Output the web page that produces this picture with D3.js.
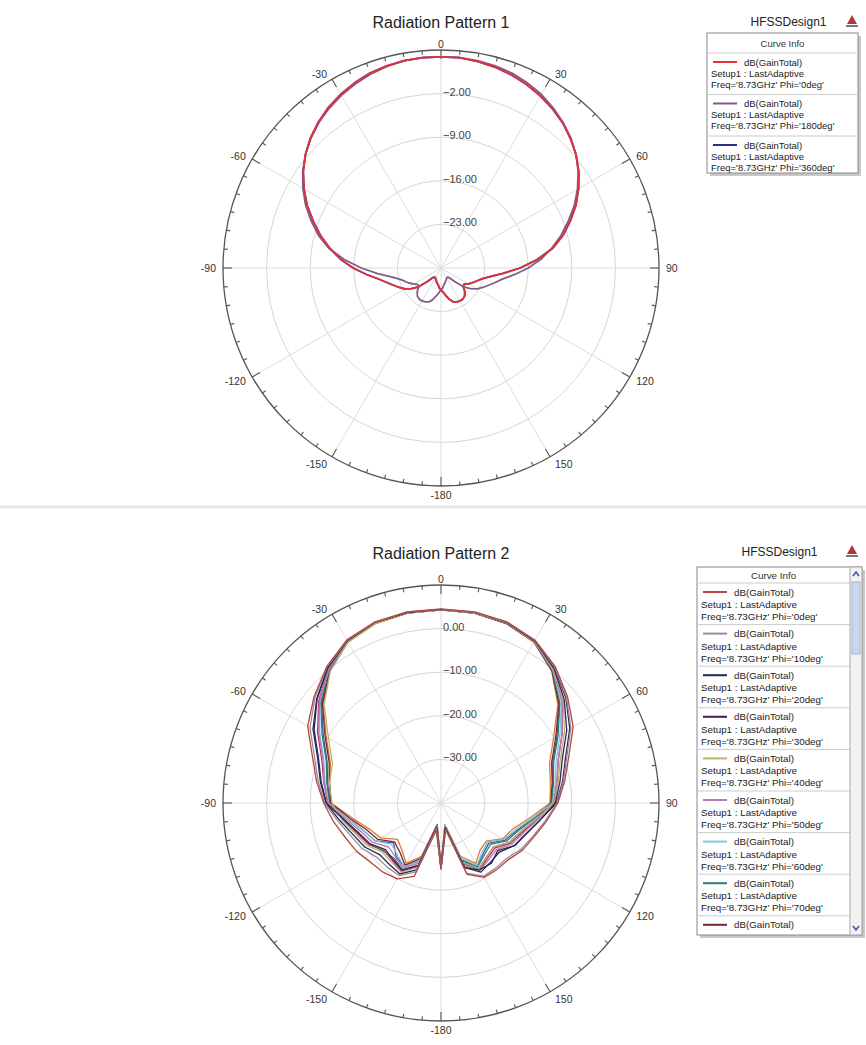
<!DOCTYPE html>
<html>
<head>
<meta charset="utf-8">
<script src="https://cdn.jsdelivr.net/npm/d3@7"></script>
<style>
body { margin: 0; background: #fff; }
svg { display: block; font-family: "Liberation Sans", Arial, sans-serif; }
</style>
</head>
<body>
<div id="chart"></div>
<script>
// ---------- data : Radiation Pattern 1 (theta in deg, gain in dB) ----------
var theta1 = [-180,-175,-170,-165,-160,-155,-150,-145,-140,-135,-130,-125,-120,-115,-110,-105,-100,-95,-90,-85,-80,-75,-70,-65,-60,-55,-50,-45,-40,-35,-30,-25,-20,-15,-10,-5,
  0,5,10,15,20,25,30,35,40,45,50,55,60,65,70,75,80,85,90,95,100,105,110,115,120,125,130,135,140,145,150,155,160,165,170,175,180];

var gainPhi0 = [-26.5,-26.8,-27.3,-27.5,-27.8,-28.0,-28.2,-28.2,-28.0,-27.0,-25.3,-24.2,-23.3,-22.6,-21.9,-21.0,-19.8,-18.0,-15.9,-13.8,-11.9,-10.0,-8.2,-6.3,-4.6,-3.0,-1.6,-0.4,0.6,1.5,2.2,2.8,3.3,3.6,3.8,3.9,
  3.9,3.9,3.7,3.4,3.0,2.5,1.9,1.2,0.4,-0.6,-1.7,-3.0,-4.5,-6.1,-7.9,-9.7,-11.8,-14.5,-17.3,-20.0,-22.0,-23.2,-23.9,-24.4,-24.9,-25.5,-25.3,-24.6,-24.1,-23.9,-23.9,-24.0,-24.2,-24.8,-25.5,-26.1,-26.5];

var gainPhi180 = [-26.5,-26.0,-25.4,-24.7,-24.2,-24.0,-23.9,-23.9,-24.1,-24.6,-25.3,-25.4,-24.9,-24.3,-23.8,-23.1,-21.9,-19.8,-17.2,-14.4,-11.7,-9.6,-7.8,-6.0,-4.4,-2.9,-1.6,-0.5,0.5,1.3,2.0,2.6,3.1,3.5,3.8,3.9,
  3.9,3.9,3.8,3.6,3.3,2.8,2.2,1.4,0.5,-0.5,-1.7,-3.1,-4.7,-6.4,-8.3,-10.1,-12.0,-13.9,-16.0,-18.1,-19.9,-21.0,-21.9,-22.6,-23.3,-24.2,-25.3,-27.0,-28.0,-28.2,-28.2,-28.0,-27.8,-27.5,-27.3,-26.8,-26.5];

var gainPhi360 = [-26.5,-26.8,-27.3,-27.5,-27.8,-28.0,-28.2,-28.2,-28.0,-27.0,-25.3,-24.2,-23.3,-22.6,-21.9,-21.0,-19.8,-18.0,-15.9,-13.8,-11.9,-10.0,-8.2,-6.3,-4.6,-3.0,-1.6,-0.4,0.6,1.5,2.2,2.8,3.3,3.6,3.8,3.9,
  3.9,3.9,3.7,3.4,3.0,2.5,1.9,1.2,0.4,-0.6,-1.7,-3.0,-4.5,-6.1,-7.9,-9.7,-11.8,-14.5,-17.3,-20.0,-22.0,-23.2,-23.9,-24.4,-24.9,-25.5,-25.3,-24.6,-24.1,-23.9,-23.9,-24.0,-24.2,-24.8,-25.5,-26.1,-26.5];

var phiNames1 = ["0deg", "180deg", "360deg"];
var ringTicks1 = [-23, -16, -9, -2];
var rangeDb1 = [-30, 5];

// ---------- data : Radiation Pattern 2 ----------
var theta2 = [-180,-175,-170,-160,-150,-140,-130,-120,-110,-100,-90,-80,-70,-60,-50,-40,-30,-20,-10,0,10,20,30,40,50,60,70,80,90,100,110,120,130,140,150,160,170,175,180];

var g2phi0   = [-24.7,-31.2,-33.6,-22.1,-19.9,-19.3,-18.9,-17.7,-16.7,-15.0,-13.1,-11.0,-8.6,-4.7,-2.0,0.8,3.2,4.2,4.5,4.5,4.5,4.2,3.1,0.8,-2.1,-5.0,-8.8,-11.2,-13.2,-15.5,-17.3,-18.4,-19.8,-20.1,-20.3,-22.6,-33.8,-31.3,-24.8];
var g2phi10  = [-24.9,-31.5,-34.0,-23.2,-20.8,-20.8,-20.7,-19.1,-18.0,-16.0,-13.3,-11.4,-9.1,-5.3,-2.3,0.7,3.1,4.1,4.5,4.4,4.4,4.1,3.1,0.6,-2.4,-5.6,-9.3,-11.5,-13.4,-15.8,-17.6,-18.8,-20.3,-20.5,-20.6,-22.9,-33.9,-31.4,-24.8];
var g2phi20  = [-25.0,-31.6,-34.1,-23.7,-21.2,-21.6,-21.6,-19.8,-18.6,-16.5,-13.6,-11.9,-9.9,-6.1,-2.8,0.5,3.0,4.1,4.4,4.4,4.4,4.1,3.0,0.5,-2.6,-5.9,-9.6,-11.7,-13.5,-17.0,-19.3,-20.5,-22.5,-22.3,-21.7,-24.3,-34.3,-31.8,-25.0];
var g2phi30  = [-25.1,-31.9,-34.4,-24.8,-22.2,-23.0,-23.4,-21.2,-19.9,-17.5,-13.7,-12.1,-10.1,-6.4,-2.9,0.4,3.0,4.1,4.4,4.4,4.4,4.0,3.0,0.3,-3.1,-6.7,-10.4,-12.3,-13.8,-17.0,-19.2,-20.5,-23.0,-22.0,-22.3,-24.2,-34.2,-31.7,-25.0];
var g2phi40  = [-25.0,-31.7,-34.2,-24.2,-21.7,-22.3,-22.5,-20.5,-19.2,-17.0,-15.0,-14.0,-13.5,-10.2,-5.0,-0.5,2.6,3.8,4.2,4.3,4.3,4.0,2.9,0.2,-3.4,-7.3,-10.9,-12.7,-14.0,-18.0,-20.6,-21.9,-24.3,-23.8,-22.6,-25.4,-34.5,-32.0,-25.2];
var g2phi50  = [-25.2,-32.0,-34.5,-25.4,-22.6,-23.8,-24.3,-21.9,-20.6,-18.0,-14.1,-12.8,-11.2,-7.6,-3.6,0.1,2.9,4.0,4.3,4.3,4.3,4.0,2.8,0.1,-3.7,-7.9,-11.4,-13.0,-14.2,-17.5,-19.9,-21.2,-23.4,-23.0,-22.2,-24.8,-34.4,-31.9,-25.1];
var g2phi60  = [-25.3,-32.2,-34.7,-25.9,-23.1,-24.5,-25.2,-22.6,-21.2,-18.5,-14.2,-13.0,-11.4,-7.9,-3.7,0.1,2.8,4.0,4.3,4.3,4.3,3.9,2.8,-0.1,-4.0,-8.5,-11.9,-13.4,-14.4,-19.0,-21.9,-23.3,-26.1,-25.3,-23.5,-26.5,-34.9,-32.4,-25.4];
var g2phi70  = [-25.1,-31.9,-34.4,-24.8,-22.2,-23.4,-22.8,-21.2,-19.9,-17.5,-14.4,-13.4,-12.0,-8.5,-4.0,-0.1,2.8,3.9,4.3,4.3,4.3,3.9,2.7,-0.2,-4.4,-9.0,-12.5,-13.8,-14.6,-18.5,-21.2,-22.6,-25.2,-24.5,-23.1,-25.9,-34.7,-32.2,-25.3];
var g2phi80  = [-25.4,-32.4,-34.9,-26.5,-23.5,-25.3,-26.1,-23.3,-21.9,-19.0,-14.7,-14.0,-12.7,-9.3,-4.5,-0.3,2.7,3.9,4.2,4.3,4.2,3.8,2.7,-0.4,-4.7,-9.6,-13.0,-14.1,-14.8,-18.0,-20.6,-21.9,-24.3,-23.8,-22.6,-25.4,-34.5,-32.0,-25.2];
var g2phi90  = [-25.5,-32.5,-35.0,-27.0,-24.0,-26.0,-27.0,-24.0,-22.5,-19.5,-14.8,-14.1,-13.0,-9.6,-4.7,-0.4,2.7,3.8,4.2,4.3,4.2,3.8,2.6,-0.5,-5.0,-10.2,-13.5,-14.5,-15.0,-19.5,-22.5,-23.6,-26.4,-26.0,-24.0,-27.0,-35.0,-32.5,-25.5];
var g2phi100 = [-25.3,-32.2,-34.7,-25.9,-23.1,-24.0,-25.8,-22.6,-21.2,-18.5,-14.5,-13.6,-12.2,-8.8,-4.2,-0.2,2.7,3.9,4.3,4.3,4.2,3.9,2.7,-0.3,-4.5,-9.3,-12.7,-14.0,-14.7,-18.8,-21.5,-23.0,-25.7,-24.9,-23.3,-26.2,-34.8,-32.3,-25.4];
var g2phi110 = [-25.1,-31.8,-34.3,-24.5,-21.9,-22.7,-23.0,-20.9,-19.6,-17.3,-14.0,-12.7,-10.9,-7.3,-3.4,0.2,2.9,4.0,4.3,4.3,4.3,4.0,2.8,0.1,-3.7,-7.9,-11.4,-13.0,-14.2,-17.8,-20.2,-21.6,-23.9,-23.4,-22.4,-25.1,-34.5,-32.0,-25.2];

var phiNames2 = ["0deg","10deg","20deg","30deg","40deg","50deg","60deg","70deg","80deg","90deg","100deg","110deg"];
var ringTicks2 = [-30, -20, -10, 0];
var rangeDb2 = [-40, 10];

var angleTicks = [-180, -150, -120, -90, -60, -30, 0, 30, 60, 90, 120, 150];

// ---------- layout ----------
var width = 866, height = 1045, R = 218;

var svg = d3.select("#chart").append("svg")
    .attr("width", width)
    .attr("height", height);

// faint divider between the two screenshots
svg.append("line")
    .attr("x1", 0).attr("x2", width)
    .attr("y1", 507).attr("y2", 507)
    .attr("stroke", "#e8e8e8").attr("stroke-width", 3);

function polarChart(cx, cy, title, titleY, dbRange, rings, thetas, series, lw) {
    var g = svg.append("g").attr("transform", "translate(" + cx + "," + cy + ")");
    var r = d3.scaleLinear().domain(dbRange).range([0, R]);
    var a = d3.scaleLinear().domain([-180, 180]).range([-Math.PI, Math.PI]);

    svg.append("text")
        .attr("x", cx).attr("y", titleY)
        .attr("text-anchor", "middle")
        .attr("font-size", 16)
        .attr("fill", "#222")
        .text(title);

    // grid rings
    g.selectAll("circle.ring")
        .data(rings)
        .enter().append("circle")
        .attr("r", function(d) { return r(d); })
        .attr("fill", "none")
        .attr("stroke", "#d6d6d6")
        .attr("stroke-width", 1);

    // spokes every 30 deg
    g.selectAll("line.spoke")
        .data(angleTicks)
        .enter().append("line")
        .attr("x1", 0).attr("y1", 0)
        .attr("x2", function(d) { return R * Math.sin(a(d)); })
        .attr("y2", function(d) { return -R * Math.cos(a(d)); })
        .attr("stroke", "#dcdcdc")
        .attr("stroke-width", 1);

    // outer circle with ticks
    g.append("circle")
        .attr("r", R)
        .attr("fill", "none")
        .attr("stroke", "#555")
        .attr("stroke-width", 1.3);

    var ticks = [];
    for (var t = -180; t < 180; t += 5) ticks.push(t);
    g.selectAll("line.tick")
        .data(ticks)
        .enter().append("line")
        .attr("x1", function(d) { return R * Math.sin(a(d)); })
        .attr("y1", function(d) { return -R * Math.cos(a(d)); })
        .attr("x2", function(d) { var l = d % 30 === 0 ? 9 : 4; return (R - l) * Math.sin(a(d)); })
        .attr("y2", function(d) { var l = d % 30 === 0 ? 9 : 4; return -(R - l) * Math.cos(a(d)); })
        .attr("stroke", "#555")
        .attr("stroke-width", 1.1);

    // angle labels
    g.selectAll("text.ang")
        .data(angleTicks)
        .enter().append("text")
        .attr("font-size", 10.5)
        .attr("fill", "#333")
        .attr("text-anchor", function(d) {
            var s = Math.sin(a(d));
            return s > 0.1 ? "start" : (s < -0.1 ? "end" : "middle");
        })
        .attr("x", function(d) {
            var s = Math.sin(a(d));
            return (R + 4) * s + (s > 0.1 ? 3 : (s < -0.1 ? -3 : 0));
        })
        .attr("y", function(d) {
            var c = Math.cos(a(d));
            return -(R + 4) * c + 3.5 + (c < 0 ? -c * 5 : -c * 1.5);
        })
        .text(function(d) { return d; });

    // ring labels
    g.selectAll("text.ringlab")
        .data(rings)
        .enter().append("text")
        .attr("x", 2)
        .attr("y", function(d) { return -r(d) + 2; })
        .attr("font-size", 11)
        .attr("fill", "#444")
        .text(function(d) { return d3.format(".2f")(d); });

    var line = d3.lineRadial()
        .angle(function(d) { return a(d[0]); })
        .radius(function(d) { return r(Math.max(d[1], dbRange[0])); });

    g.selectAll("path.curve")
        .data(series)
        .enter().append("path")
        .attr("d", function(d) { return line(d3.zip(thetas, d.values)); })
        .attr("fill", "none")
        .attr("stroke", function(d) { return d.color; })
        .attr("stroke-width", lw)
        .attr("stroke-linejoin", "round");
}

// offs = y offsets of the three text lines inside one legend row
function legend(x0, y0, w, h, rowH, offs, names, colors, fs, titleY, scroll) {
    // title + logo
    svg.append("text")
        .attr("x", x0 + w / 2 + 6).attr("y", titleY)
        .attr("text-anchor", "middle")
        .attr("font-size", 12)
        .attr("fill", "#222")
        .text("HFSSDesign1");
    var lx = 852, ly = titleY - 5;
    svg.append("path")
        .attr("d", "M" + lx + "," + (ly - 6) + "L" + (lx + 5) + "," + (ly + 3) + "L" + (lx - 5) + "," + (ly + 3) + "Z")
        .attr("fill", "#b03a3a");
    svg.append("rect").attr("x", lx - 6).attr("y", ly + 4).attr("width", 12).attr("height", 2).attr("fill", "#777");

    var totalW = w + (scroll ? 12 : 0);
    svg.append("rect")
        .attr("x", x0 + 3).attr("y", y0 + 3)
        .attr("width", totalW).attr("height", h)
        .attr("fill", "#c8c8c8");
    svg.append("rect")
        .attr("x", x0).attr("y", y0)
        .attr("width", totalW).attr("height", h)
        .attr("fill", "#fff")
        .attr("stroke", "#888");

    var headH = scroll ? 16 : 20;
    svg.append("text")
        .attr("x", x0 + w / 2).attr("y", y0 + headH / 2 + 3.5)
        .attr("text-anchor", "middle")
        .attr("font-size", fs)
        .attr("fill", "#333")
        .text("Curve Info");

    // keep only rows (and row lines) that fit inside the box
    var fit = function(yy) { return yy + 5 <= h; };
    var rows = svg.selectAll(null)
        .data(names.filter(function(d, i) { return fit(headH + i * rowH + offs[0]); }))
        .enter().append("g")
        .attr("transform", function(d, i) { return "translate(" + x0 + "," + (y0 + headH + i * rowH) + ")"; });

    rows.append("line")
        .attr("x1", 0).attr("x2", w)
        .attr("y1", 0).attr("y2", 0)
        .attr("stroke", "#ccc");
    rows.append("line")
        .attr("x1", 6).attr("x2", 30)
        .attr("y1", offs[0]).attr("y2", offs[0])
        .attr("stroke", function(d, i) { return colors[i]; })
        .attr("stroke-width", 2);
    rows.append("text")
        .attr("x", 37).attr("y", offs[0] + 3.5)
        .attr("font-size", fs).attr("fill", "#222")
        .text("dB(GainTotal)");
    rows.filter(function(d, i) { return fit(headH + i * rowH + offs[1]); })
        .append("text")
        .attr("x", 4).attr("y", offs[1] + 3.5)
        .attr("font-size", fs).attr("fill", "#222")
        .text("Setup1 : LastAdaptive");
    rows.filter(function(d, i) { return fit(headH + i * rowH + offs[2]); })
        .append("text")
        .attr("x", 4).attr("y", offs[2] + 3.5)
        .attr("font-size", fs).attr("fill", "#222")
        .text(function(d) { return "Freq='8.73GHz' Phi='" + d + "'"; });

    if (scroll) {
        var sx = x0 + w;
        svg.append("rect").attr("x", sx).attr("y", y0).attr("width", 12).attr("height", h)
            .attr("fill", "#f2f2f2").attr("stroke", "#aaa");
        svg.append("rect").attr("x", sx + 2).attr("y", y0 + 15).attr("width", 8).attr("height", 72)
            .attr("fill", "#c9d8ee").attr("stroke", "#9fb3d0");
        svg.append("path").attr("d", "M" + (sx + 3) + "," + (y0 + 9) + "L" + (sx + 6) + "," + (y0 + 5) + "L" + (sx + 9) + "," + (y0 + 9))
            .attr("fill", "none").attr("stroke", "#3a5a9a").attr("stroke-width", 1.5);
        svg.append("path").attr("d", "M" + (sx + 3) + "," + (y0 + h - 9) + "L" + (sx + 6) + "," + (y0 + h - 5) + "L" + (sx + 9) + "," + (y0 + h - 9))
            .attr("fill", "none").attr("stroke", "#3a5a9a").attr("stroke-width", 1.5);
    }
}

// ---------- chart 1 ----------
var colors1 = ["#e2313b", "#7e5e88", "#2c2f86"];
polarChart(441, 268, "Radiation Pattern 1", 28, rangeDb1, ringTicks1, theta1, [
    { values: gainPhi360, color: colors1[2] },
    { values: gainPhi180, color: colors1[1] },
    { values: gainPhi0, color: colors1[0] }
], 1.8);
legend(707, 33, 151, 140, 41.5, [9, 20, 31], phiNames1, colors1, 9.5, 26, false);

// ---------- chart 2 ----------
var colors2 = ["#b4483c", "#9c8a9b", "#1f2a5c", "#3e1f52", "#b9b46a", "#b878b2",
               "#7fc9d3", "#2f7f78", "#7c2430", "#de7a32", "#3d4fb8", "#c02f66"];
var series2 = [g2phi0, g2phi10, g2phi20, g2phi30, g2phi40, g2phi50, g2phi60, g2phi70, g2phi80, g2phi90, g2phi100, g2phi110];
polarChart(441, 803, "Radiation Pattern 2", 559, rangeDb2, ringTicks2, theta2,
    series2.map(function(v, i) { return { values: v, color: colors2[i] }; }).reverse(), 1.3);
legend(697, 567, 153, 368, 41.6, [9, 21.5, 33.5], phiNames2, colors2, 9.8, 556, true);
</script>
</body>
</html>
